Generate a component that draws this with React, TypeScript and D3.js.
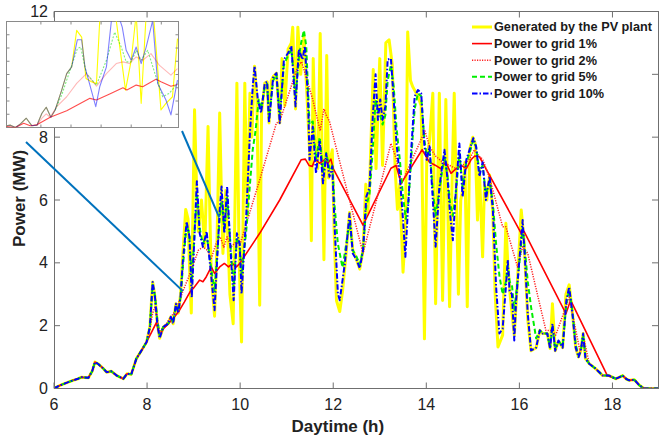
import React from 'react';
import * as d3 from 'd3';

type Pt = [number, number];

// Shared morning ramp (all curves coincide before grid limiting begins), [hour, MW]
const morningRamp: Pt[] = [
  [6.0, 0], [6.13, 0.1], [6.25, 0.17], [6.41, 0.26], [6.5, 0.3], [6.59, 0.36], [6.74, 0.34],
  [6.82, 0.55], [6.88, 0.84], [6.95, 0.78], [7.05, 0.65], [7.13, 0.52], [7.23, 0.55], [7.35, 0.41],
  [7.49, 0.31], [7.57, 0.47], [7.66, 0.45], [7.77, 0.95], [7.88, 1.21], [7.99, 1.48],
];

// Shared evening tail
const eveningTail: Pt[] = [
  [17.93, 0.41], [18.07, 0.31], [18.15, 0.36], [18.22, 0.41], [18.3, 0.3], [18.36, 0.26],
  [18.47, 0.28], [18.58, 0.1], [18.68, 0.0], [19.0, 0.0],
];

const pvGenerated: Pt[] = [
  [8.06, 1.96], [8.12, 3.39], [8.17, 2.91], [8.22, 2.06], [8.27, 1.6], [8.35, 1.96], [8.45, 2.06],
  [8.51, 2.28], [8.56, 2.06], [8.62, 2.7], [8.67, 2.4], [8.72, 3.0], [8.77, 4.3], [8.83, 5.7],
  [8.88, 5.4], [8.92, 3.5], [8.95, 2.4], [9.02, 8.87], [9.07, 6.0], [9.1, 5.0], [9.17, 6.0],
  [9.24, 4.5], [9.31, 8.34], [9.35, 5.5], [9.38, 3.6], [9.45, 2.3], [9.5, 4.5], [9.56, 8.77],
  [9.6, 6.0], [9.63, 4.3], [9.69, 6.3], [9.73, 5.0], [9.78, 3.0], [9.85, 2.06], [9.93, 9.72],
  [9.98, 4.0], [10.03, 1.48], [10.1, 9.72], [10.15, 5.5], [10.21, 9.4], [10.25, 8.0], [10.31, 10.26],
  [10.36, 9.2], [10.42, 2.65], [10.46, 8.8], [10.53, 9.72], [10.58, 9.76], [10.62, 8.45],
  [10.67, 9.8], [10.71, 9.93], [10.78, 10.04], [10.85, 8.45], [10.9, 10.5], [10.96, 9.0], [11.03, 10.8],
  [11.1, 11.0], [11.13, 11.5], [11.19, 8.9], [11.24, 11.5], [11.3, 10.0], [11.37, 11.2],
  [11.43, 9.5], [11.5, 7.3], [11.53, 4.7], [11.57, 10.5], [11.61, 8.0], [11.67, 7.0], [11.72, 11.3],
  [11.76, 7.5], [11.8, 4.1], [11.86, 10.6], [11.9, 6.7], [11.94, 7.3], [11.98, 7.6], [12.02, 5.0],
  [12.07, 2.8], [12.14, 2.45], [12.2, 3.1], [12.27, 4.2], [12.35, 5.6], [12.42, 4.4], [12.5, 4.1],
  [12.57, 3.8], [12.64, 4.4], [12.7, 6.5], [12.74, 5.6], [12.78, 6.4], [12.86, 10.15], [12.92, 7.0],
  [13.0, 10.5], [13.06, 7.1], [13.13, 11.0], [13.2, 11.1], [13.27, 10.3], [13.33, 7.0], [13.38, 5.7],
  [13.43, 6.5], [13.5, 3.7], [13.55, 5.0], [13.6, 11.35], [13.66, 9.8], [13.71, 9.6], [13.82, 9.3],
  [13.89, 9.0], [13.96, 1.58], [14.01, 7.3], [14.07, 7.9], [14.14, 9.4], [14.2, 2.7], [14.28, 9.4],
  [14.35, 2.8], [14.42, 9.2], [14.5, 2.6], [14.56, 7.0], [14.6, 9.4], [14.69, 3.0], [14.74, 6.0],
  [14.78, 6.3], [14.83, 7.2], [14.88, 2.6], [14.93, 7.6], [15.0, 8.0], [15.05, 7.8], [15.1, 5.36],
  [15.14, 7.0], [15.21, 4.19], [15.25, 6.5], [15.3, 6.0], [15.36, 6.8], [15.43, 5.6], [15.48, 3.0],
  [15.54, 1.32], [15.64, 1.7], [15.71, 5.26], [15.75, 4.0], [15.8, 3.0], [15.89, 1.7], [15.95, 3.2],
  [16.04, 5.68], [16.1, 4.7], [16.18, 2.2], [16.25, 1.2], [16.36, 1.3], [16.44, 1.85], [16.5, 1.75],
  [16.6, 1.75], [16.66, 1.27], [16.71, 2.7], [16.77, 1.2], [16.84, 1.5], [16.93, 1.3], [17.0, 3.0],
  [17.07, 3.3], [17.14, 2.4], [17.21, 1.3], [17.27, 1.0], [17.32, 1.2], [17.37, 1.75], [17.42, 0.95],
  [17.5, 0.79], [17.64, 0.63], [17.79, 0.41],
];

const grid1: Pt[] = [
  [8.1, 1.8], [8.2, 2.1], [8.27, 1.7], [8.35, 1.9], [8.45, 2.05], [8.6, 2.3], [8.7, 2.5], [8.8, 2.75],
  [8.92, 3.07], [9.0, 3.2], [9.13, 3.45], [9.2, 3.4], [9.27, 3.55], [9.38, 3.87], [9.45, 3.66],
  [9.56, 3.87], [9.66, 3.98], [9.75, 3.87], [9.83, 3.98], [9.92, 3.87], [9.99, 3.98], [10.42, 4.94],
  [10.85, 6.0], [11.31, 7.28], [11.4, 7.3], [11.48, 7.1], [11.55, 7.07], [11.61, 7.3], [11.71, 7.17],
  [11.81, 7.28], [11.88, 7.17], [11.95, 7.3], [12.0, 7.0], [12.64, 5.2], [13.24, 7.01], [13.35, 7.1],
  [13.46, 6.53], [13.91, 7.6], [14.07, 7.2], [14.2, 7.1], [14.31, 7.0], [14.42, 7.2], [14.53, 6.85],
  [14.64, 7.0], [14.75, 7.1], [14.86, 7.0], [14.96, 7.28], [15.04, 7.4], [15.14, 7.38], [15.28, 7.0],
  [16.04, 4.94], [16.1, 5.0], [17.0, 2.38], [17.1, 2.81], [17.89, 0.41],
];

const grid2: Pt[] = [
  [8.06, 1.9], [8.12, 2.4], [8.17, 2.6], [8.27, 1.8], [8.41, 2.06], [8.62, 2.5], [8.77, 3.1],
  [8.88, 3.5], [9.03, 4.1], [9.1, 4.4], [9.2, 4.5], [9.3, 4.4], [9.37, 4.1], [9.48, 4.6], [9.57, 4.83],
  [9.65, 4.5], [9.72, 4.83], [9.8, 4.5], [9.9, 4.65], [10.0, 4.6], [10.42, 6.64], [10.78, 8.45],
  [10.85, 8.5], [11.24, 10.26], [11.32, 10.4], [11.56, 9.2], [11.72, 8.2], [11.8, 8.9], [11.85, 8.7],
  [11.92, 8.5], [12.64, 4.3], [13.24, 7.8], [13.36, 7.3], [13.46, 6.5], [13.97, 8.2], [14.07, 7.7],
  [14.2, 7.4], [14.35, 7.2], [14.5, 7.1], [14.64, 7.0], [14.78, 7.1], [14.93, 7.3], [15.03, 7.6],
  [15.14, 7.38], [15.21, 7.3], [15.36, 6.7], [15.64, 5.15], [15.71, 5.15], [15.96, 3.87], [16.07, 4.51],
  [16.18, 4.3], [16.57, 1.85], [16.71, 1.85], [16.78, 1.7], [17.0, 2.6], [17.07, 2.9], [17.3, 1.2],
  [17.4, 1.5], [17.5, 0.79], [17.64, 0.63], [17.79, 0.41],
];

const grid5: Pt[] = [
  [8.06, 1.96], [8.12, 3.3], [8.17, 2.95], [8.22, 2.2], [8.27, 1.7], [8.35, 1.96], [8.45, 2.06],
  [8.51, 2.25], [8.56, 2.1], [8.62, 2.65], [8.67, 2.45], [8.72, 2.9], [8.77, 3.9], [8.85, 5.2],
  [8.91, 4.9], [8.96, 3.4], [9.07, 6.2], [9.13, 5.1], [9.2, 4.6], [9.28, 4.9], [9.38, 3.8], [9.45, 3.1],
  [9.56, 5.4], [9.6, 6.1], [9.66, 5.0], [9.72, 6.1], [9.81, 4.2], [9.86, 3.2], [9.93, 4.8], [9.99, 4.6],
  [10.03, 3.6], [10.13, 5.0], [10.2, 6.3], [10.27, 7.6], [10.33, 8.2], [10.4, 9.2], [10.45, 8.9],
  [10.53, 9.6], [10.58, 9.7], [10.62, 8.6], [10.71, 9.8], [10.78, 10.0], [10.85, 8.7], [10.94, 10.3],
  [11.03, 10.6], [11.1, 10.8], [11.19, 9.3], [11.26, 10.5], [11.31, 11.0], [11.37, 11.4], [11.42, 10.9],
  [11.49, 8.4], [11.56, 8.5], [11.63, 7.3], [11.71, 8.0], [11.78, 6.9], [11.85, 7.5], [11.92, 7.0],
  [11.98, 7.1], [12.03, 5.8], [12.1, 4.6], [12.2, 3.85], [12.3, 4.8], [12.35, 5.3], [12.42, 4.4],
  [12.5, 4.2], [12.57, 3.95], [12.64, 4.4], [12.71, 5.8], [12.78, 6.2], [12.85, 7.6], [12.91, 9.2],
  [12.96, 8.8], [13.01, 8.7], [13.06, 8.4], [13.12, 8.7], [13.17, 9.8], [13.24, 10.3], [13.3, 9.6],
  [13.36, 8.3], [13.43, 7.3], [13.5, 6.1], [13.56, 5.4], [13.62, 6.0], [13.68, 7.4], [13.75, 8.9],
  [13.82, 9.4], [13.89, 9.3], [13.96, 7.9], [14.01, 7.4], [14.07, 7.6], [14.14, 6.3], [14.2, 5.5],
  [14.28, 6.3], [14.39, 7.4], [14.46, 6.7], [14.51, 5.9], [14.57, 5.5], [14.64, 6.3], [14.71, 7.5],
  [14.78, 6.4], [14.86, 7.2], [14.93, 7.5], [15.01, 7.9], [15.07, 7.7], [15.14, 6.9], [15.21, 7.1],
  [15.28, 6.2], [15.36, 6.6], [15.43, 5.9], [15.5, 4.6], [15.57, 3.6], [15.64, 3.0], [15.71, 3.4],
  [15.75, 3.9], [15.79, 3.4], [15.84, 3.3], [15.89, 2.5], [15.93, 3.0], [16.0, 4.0], [16.07, 5.1],
  [16.12, 4.4], [16.18, 3.4], [16.25, 2.6], [16.36, 1.6], [16.44, 1.85], [16.5, 1.75], [16.6, 1.75],
  [16.66, 1.3], [16.71, 2.0], [16.77, 1.25], [16.84, 1.5], [16.93, 1.35], [17.01, 2.7], [17.07, 3.15],
  [17.14, 2.45], [17.21, 1.4], [17.27, 1.05], [17.32, 1.2], [17.37, 1.7], [17.42, 0.98], [17.5, 0.79],
  [17.64, 0.63], [17.79, 0.41],
];

const grid10: Pt[] = [
  [8.06, 1.96], [8.12, 3.39], [8.17, 2.91], [8.22, 2.06], [8.27, 1.6], [8.35, 1.96], [8.45, 2.06],
  [8.51, 2.28], [8.56, 2.06], [8.62, 2.7], [8.67, 2.4], [8.72, 2.95], [8.77, 4.09], [8.85, 5.31],
  [8.91, 4.83], [8.96, 2.9], [9.07, 6.6], [9.13, 4.94], [9.2, 4.51], [9.28, 5.0], [9.38, 3.55],
  [9.45, 2.49], [9.56, 5.68], [9.6, 6.43], [9.66, 4.94], [9.72, 6.43], [9.81, 3.98], [9.86, 2.81],
  [9.93, 4.94], [9.99, 4.6], [10.03, 3.02], [10.13, 5.47], [10.21, 8.13], [10.27, 9.6], [10.31, 10.26],
  [10.38, 9.19], [10.45, 8.77], [10.53, 9.72], [10.58, 9.76], [10.62, 8.45], [10.71, 9.93],
  [10.78, 10.04], [10.85, 8.45], [10.94, 10.47], [11.03, 10.68], [11.1, 10.9], [11.19, 8.98],
  [11.26, 10.79], [11.34, 10.47], [11.39, 10.9], [11.46, 9.19], [11.49, 7.28], [11.56, 8.34],
  [11.63, 6.85], [11.71, 7.9], [11.78, 6.53], [11.85, 7.47], [11.92, 6.74], [11.98, 7.07],
  [12.03, 5.15], [12.1, 3.02], [12.14, 2.81], [12.25, 3.98], [12.35, 5.57], [12.42, 4.3], [12.5, 4.1],
  [12.57, 3.83], [12.64, 4.4], [12.71, 6.1], [12.78, 6.4], [12.85, 8.66], [12.91, 10.0], [12.96, 8.55],
  [13.01, 9.2], [13.06, 8.55], [13.12, 8.98], [13.17, 10.47], [13.24, 10.5], [13.3, 9.19], [13.36, 7.8],
  [13.43, 6.75], [13.5, 5.36], [13.55, 4.19], [13.6, 5.57], [13.68, 7.7], [13.75, 9.3], [13.82, 9.5],
  [13.89, 9.4], [13.96, 7.7], [14.01, 7.28], [14.07, 7.7], [14.14, 6.0], [14.2, 4.51], [14.28, 6.4],
  [14.39, 7.6], [14.46, 6.6], [14.51, 5.57], [14.57, 4.72], [14.64, 6.4], [14.71, 7.8], [14.78, 6.1],
  [14.86, 7.28], [14.93, 7.6], [15.01, 7.97], [15.07, 7.7], [15.14, 6.75], [15.21, 7.2], [15.28, 6.0],
  [15.36, 6.75], [15.43, 5.7], [15.5, 3.23], [15.57, 1.75], [15.64, 1.9], [15.71, 3.23], [15.75, 4.09],
  [15.79, 3.1], [15.84, 3.0], [15.89, 1.53], [15.93, 2.8], [16.0, 4.1], [16.07, 5.36], [16.12, 4.1],
  [16.18, 2.38], [16.25, 1.21], [16.36, 1.3], [16.44, 1.85], [16.5, 1.75], [16.6, 1.75], [16.66, 1.27],
  [16.71, 2.06], [16.77, 1.2], [16.84, 1.53], [16.93, 1.3], [17.01, 2.81], [17.07, 3.23], [17.14, 2.38],
  [17.21, 1.3], [17.27, 1.0], [17.32, 1.2], [17.37, 1.75], [17.42, 0.95], [17.5, 0.79], [17.64, 0.63],
  [17.79, 0.41],
];

// Magnified detail shown in the inset (relative units 0–100 on both axes)
const insetPv: Pt[] = [
  [0, 1.6], [2.3, 2.2], [5.2, 0], [8.1, 3.4], [11.5, 8.75], [14.8, 1.6], [17.7, 2.2], [20.6, 13.4],
  [23.1, 19.1], [25.8, 9.7], [28.3, 16.6], [32.1, 35.3], [35, 50.9], [37.9, 57.2], [40.8, 91.6],
  [43.7, 85.3], [46.2, 46.3], [49.4, 43.1], [52.3, 41.6], [55.2, 132], [60, 132], [63.8, 101],
  [69.2, 35.3], [72.5, 63.4], [75.4, 107], [78.3, 22.8], [81.2, 107], [85.4, 107], [89.8, 16.6],
  [92.7, 22.8], [96.5, 29], [99.4, 83.8],
];
const insetGrid10: Pt[] = [
  [0, 1.6], [2.3, 2.2], [5.2, 0], [8.1, 3.4], [11.5, 8.75], [14.8, 1.6], [17.7, 2.2], [20.6, 13.4],
  [23.1, 19.1], [25.8, 9.7], [28.3, 16.6], [32.1, 35.3], [35, 50.9], [37.9, 57.2], [41.2, 82.8],
  [43.7, 82.8], [45.6, 57.2], [51.9, 19.7], [54.2, 38.4], [58.1, 57.2], [61, 101], [64.8, 107],
  [67.3, 94.7], [69.6, 72.8], [72.5, 63.4], [75.4, 75.9], [78.3, 60.3], [81.2, 75.9], [85, 101],
  [87.9, 41.6], [92.7, 25.9], [95.6, 11.9], [99.4, 44.7],
];
const insetGrid5: Pt[] = [
  [28.3, 16.6], [32.1, 30.6], [35, 44.7], [41.2, 74.4], [43.1, 75.9],
  [46.5, 50.9], [52.3, 40], [58.1, 63.4], [62.9, 90], [66.7, 75.9], [69.6, 61.9], [72.5, 61.9],
  [75.4, 72.8], [78.3, 63.4], [82.1, 72.8], [86.9, 47.8], [90.8, 29], [94.6, 32.2], [99.4, 41.6],
];
const insetGrid2: Pt[] = [
  [17.7, 2.2], [20.6, 8.75], [23.1, 12.8], [25.4, 9.7], [29.2, 19.7], [35, 29], [40.8, 41.6],
  [46.5, 50.9], [52.3, 39], [58.1, 50.9], [63.8, 60.3], [67.7, 61.9], [71.5, 60.3], [75.4, 66.6],
  [79.2, 63.4], [84, 69.7], [88.8, 58.8], [95.6, 49.4], [99.4, 55.6],
];
const insetGrid1: Pt[] = [
  [0, 0.9], [5.2, 0], [10, 4], [13.8, 1.6], [17.7, 2.5], [25.4, 9.7], [35, 15.9], [48.5, 27.5],
  [52.3, 25.9], [60, 31.6], [67.7, 37.5], [70, 35.3], [75.4, 40], [79.2, 38.4], [86.9, 45.6],
  [89.8, 43.1], [95.6, 39], [99.4, 40.6],
];

const xTicks = [6, 8, 10, 12, 14, 16, 18];
const yTicks = [0, 2, 4, 6, 8, 10, 12];
const insetXTicks = [20, 37.5, 55, 72.5, 90];
const insetYTicks = [12.5, 25, 37.5, 50, 62.5, 75, 87.5];

// Callout lines from the inset to the region it magnifies, [hour, MW] at the plot end
const calloutTargets: Pt[] = [[8.77, 3.1], [9.55, 5.45]];
const calloutStarts: Pt[] = [[26, 142], [182, 131]];

const legendLabels = [
  'Generated by the PV plant',
  'Power to grid 1%',
  'Power to grid 2%',
  'Power to grid 5%',
  'Power to grid 10%',
];

const FONT = '"Liberation Sans", Arial, Helvetica, sans-serif';
const AXIS = '#6f6f6f';

type Style = { stroke: string; width: number; dash?: string };
const styles: Style[] = [
  { stroke: '#ffff00', width: 3 },
  { stroke: '#ff0000', width: 1.6 },
  { stroke: '#ff2020', width: 1.5, dash: '1.2 1.3' },
  { stroke: '#00ee00', width: 2, dash: '5 3' },
  { stroke: '#0000ff', width: 2, dash: '5.5 2 1.5 2' },
];

export default function App() {
  const W = 659;
  const H = 438;
  const x = d3.scaleLinear().domain([6, 19]).range([54, 659]);
  const y = d3.scaleLinear().domain([0, 12]).range([388.5, 11.5]);
  const line = d3
    .line<Pt>()
    .x((d) => x(d[0]))
    .y((d) => y(d[1]))
    .curve(d3.curveLinear);

  const series: Pt[][] = [
    [...morningRamp, ...pvGenerated, ...eveningTail],
    [...morningRamp, ...grid1, ...eveningTail.slice(1)],
    [...morningRamp, ...grid2, ...eveningTail],
    [...morningRamp, ...grid5, ...eveningTail],
    [...morningRamp, ...grid10, ...eveningTail],
  ];

  const [x0, x1] = x.range();
  const [yb, yt] = y.range();

  // inset geometry
  const ix = d3.scaleLinear().domain([0, 100]).range([6.5, 178.5]);
  const iy = d3.scaleLinear().domain([0, 100]).range([127.5, 21.5]);
  const iline = d3
    .line<Pt>()
    .x((d) => ix(d[0]))
    .y((d) => iy(d[1]));

  const legendY = (i: number) => 27 + i * 16.6;

  return (
    <svg
      width={W}
      height={H}
      viewBox={`0 0 ${W} ${H}`}
      style={{ position: 'absolute', left: 0, top: 0, background: '#fff' }}
      fontFamily={FONT}
    >
      <defs>
        <clipPath id="plotClip">
          <rect x={x0} y={yt} width={x1 - x0} height={yb - yt} />
        </clipPath>
        <clipPath id="insetClip">
          <rect x={ix(0)} y={iy(100)} width={ix(100) - ix(0)} height={iy(0) - iy(100)} />
        </clipPath>
      </defs>
      <rect x={0} y={0} width={W} height={H} fill="#fff" />

      {/* data curves */}
      <g clipPath="url(#plotClip)" fill="none" strokeLinejoin="round">
        {series.map((s, i) => (
          <path
            key={i}
            d={line(s) || ''}
            stroke={styles[i].stroke}
            strokeWidth={styles[i].width}
            strokeDasharray={styles[i].dash}
          />
        ))}
      </g>

      {/* frame and ticks */}
      <g stroke={AXIS} strokeWidth={1} fill="none">
        <rect x={x0 + 0.5} y={yt} width={x1 - x0 - 1} height={yb - yt} />
        {xTicks.map((t) => (
          <g key={`xt${t}`}>
            <line x1={x(t)} x2={x(t)} y1={yb} y2={yb - 6} />
            <line x1={x(t)} x2={x(t)} y1={yt} y2={yt + 6} />
          </g>
        ))}
        {yTicks.map((t) => (
          <g key={`yt${t}`}>
            <line x1={x0} x2={x0 + 6} y1={y(t)} y2={y(t)} />
            <line x1={x1 - 1} x2={x1 - 7} y1={y(t)} y2={y(t)} />
          </g>
        ))}
      </g>
      <g fill="#222" fontSize={16}>
        {xTicks.map((t) => (
          <text key={`xl${t}`} x={x(t)} y={410} textAnchor="middle">
            {t}
          </text>
        ))}
        {yTicks.map((t) => (
          <text key={`yl${t}`} x={48} y={y(t)} dy="0.35em" textAnchor="end">
            {t}
          </text>
        ))}
      </g>
      <text x={x(12.1)} y={432} textAnchor="middle" fontSize={17} fontWeight="bold" fill="#222">
        Daytime (h)
      </text>
      <text
        transform={`translate(25,${y(6.05)}) rotate(-90)`}
        textAnchor="middle"
        fontSize={17}
        fontWeight="bold"
        fill="#222"
      >
        Power (MW)
      </text>

      {/* legend */}
      <g>
        {legendLabels.map((lab, i) => (
          <g key={lab}>
            <line
              x1={472}
              x2={492}
              y1={legendY(i)}
              y2={legendY(i)}
              stroke={styles[i].stroke}
              strokeWidth={styles[i].width}
              strokeDasharray={styles[i].dash}
            />
            <text x={494} y={legendY(i)} dy="0.35em" fontSize={12.7} fontWeight="bold" fill="#1a1a1a">
              {lab}
            </text>
          </g>
        ))}
      </g>

      {/* callout lines */}
      <g stroke="#0072bd" strokeWidth={2}>
        {calloutTargets.map((d, i) => (
          <line
            key={i}
            x1={calloutStarts[i][0]}
            y1={calloutStarts[i][1]}
            x2={x(d[0])}
            y2={y(d[1])}
          />
        ))}
      </g>

      {/* inset */}
      <rect
        x={ix(0)}
        y={iy(100)}
        width={ix(100) - ix(0)}
        height={iy(0) - iy(100)}
        fill="#fff"
        stroke="#8a8a8a"
        strokeWidth={1}
      />
      <g clipPath="url(#insetClip)" fill="none" strokeWidth={1.1} strokeLinejoin="round">
        <path d={iline(insetPv) || ''} stroke="#ffff00" strokeWidth={1.1} />
        <path d={iline(insetGrid2) || ''} stroke="#ff0000" strokeOpacity={0.28} />
        <path d={iline(insetGrid1) || ''} stroke="#ff0000" strokeOpacity={0.7} />
        <path d={iline(insetGrid5) || ''} stroke="#00dd00" strokeOpacity={0.5} strokeDasharray="2 1.5" />
        <path d={iline(insetGrid10) || ''} stroke="#0000ff" strokeOpacity={0.5} />
      </g>
      <g stroke="#8a8a8a" strokeWidth={1}>
        {insetXTicks.map((t) => (
          <g key={`ix${t}`}>
            <line x1={ix(t)} x2={ix(t)} y1={iy(0)} y2={iy(0) - 3} />
            <line x1={ix(t)} x2={ix(t)} y1={iy(100)} y2={iy(100) + 3} />
          </g>
        ))}
        {insetYTicks.map((t) => (
          <g key={`iy${t}`}>
            <line x1={ix(0)} x2={ix(0) + 3} y1={iy(t)} y2={iy(t)} />
            <line x1={ix(100)} x2={ix(100) - 3} y1={iy(t)} y2={iy(t)} />
          </g>
        ))}
      </g>
    </svg>
  );
}
